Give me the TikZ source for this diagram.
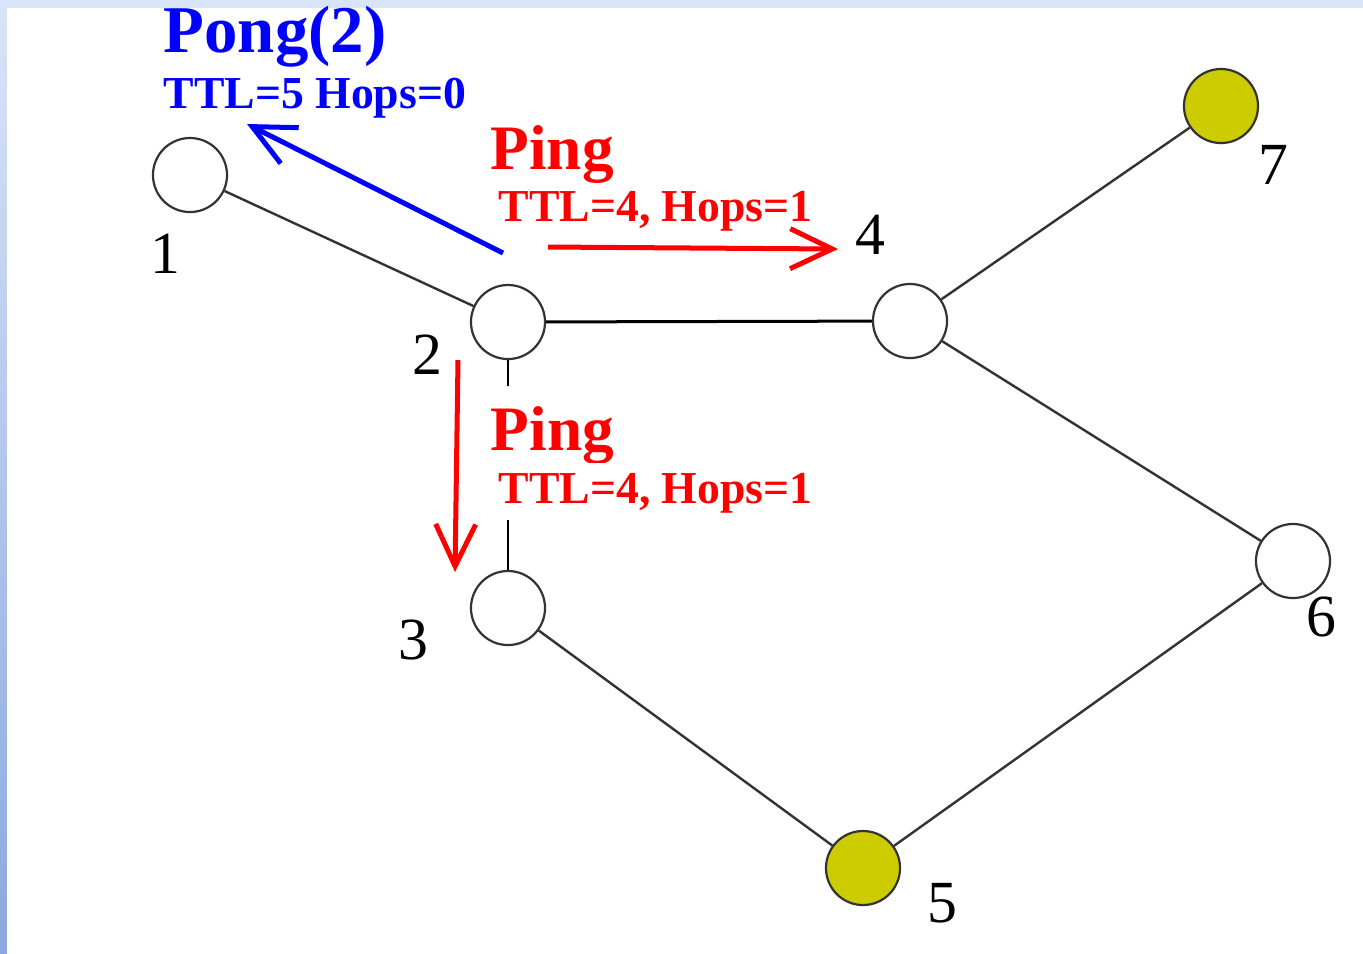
\documentclass[tikz,border=0pt]{standalone}
\usepackage{fontspec}
\setmainfont{Liberation Serif}
\usetikzlibrary{arrows.meta}
\definecolor{cjaune}{RGB}{204,204,0}
\definecolor{cbord}{RGB}{216,228,250}
\definecolor{cbordfonce}{RGB}{140,168,220}
\definecolor{clien}{gray}{0.2}

\begin{document}
\begin{tikzpicture}[x=0.01cm, y=-0.01cm,
    pair/.style={circle, draw=clien, line width=0.022cm, fill=white,
                 minimum size=0.74cm, inner sep=0pt},
    plein/.style={pair, fill=cjaune},
    lien/.style={clien, line width=0.024cm},
    num/.style={font=\fontsize{17}{17}\selectfont, inner sep=0pt},
    msg/.style={line width=0.05cm, -{Straight Barb[length=0.42cm, width=0.4cm]}},
    titre/.style={font=\bfseries\fontsize{18}{18}\selectfont, anchor=base west, inner sep=0pt},
    info/.style={font=\bfseries\fontsize{13}{13}\selectfont, anchor=base west, inner sep=0pt}]

  \useasboundingbox (0,0) rectangle (1363,953);
  \fill[cbord] (0,0) rectangle (1363,953);
  \shade[top color=cbord, bottom color=cbordfonce] (0,0) rectangle (7,953);
  \fill[white] (7,8) rectangle (1363,953);

  \node[pair] (n1) at (190,175) {};
  \node[pair] (n2) at (508,322) {};
  \node[pair] (n3) at (508,608) {};
  \node[pair] (n4) at (910,321) {};
  \node[plein] (n5) at (863,868) {};
  \node[pair] (n6) at (1293,561) {};
  \node[plein] (n7) at (1221,106) {};

  \draw[lien] (n1) -- (n2);
  \draw[lien, black, line width=0.03cm] (n2) -- (n4);
  \draw[lien, black, line width=0.028cm] (n2) -- (n3);
  \draw[lien] (n4) -- (n7);
  \draw[lien] (n4) -- (n6);
  \draw[lien] (n3) -- (n5);
  \draw[lien] (n5) -- (n6);

  \node[num] (l1) at (165,254) {1};
  \node[num] (l2) at (427,355) {2};
  \node[num] (l3) at (413,640) {3};
  \node[num] (l4) at (870,235) {4};
  \node[num] (l5) at (942,903) {5};
  \node[num] (l6) at (1321,617) {6};
  \node[num] (l7) at (1273,165) {7};

  \node[titre, font=\bfseries\fontsize{19}{19}\selectfont, blue] (pong) at (163,52) {Pong(2)};
  \node[info, blue] (pongi) at (163,108) {TTL=5 Hops=0};
  \node[titre, red] (ping4) at (490,169) {Ping};
  \node[info, red] (ping4i) at (498,221) {TTL=4, Hops=1};
  \node[titre, red, fill=white, text height=0.64cm, text depth=0.14cm,
        inner xsep=2pt] (ping3) at (483,450) {Ping};
  \node[info, red, fill=white, text height=0.40cm, text depth=0.17cm,
        inner xsep=2pt] (ping3i) at (491,503) {TTL=4, Hops=1};

  \coordinate (pongA) at (503,253);
  \coordinate (pongB) at (247,124);
  \coordinate (pingA) at (548,247);
  \coordinate (pingB) at (838,249);
  \coordinate (pingC) at (458,360);
  \coordinate (pingD) at (455,572);

  \draw[msg, blue] (pongA) -- (pongB);
  \draw[msg, red] (pingA) -- (pingB);
  \draw[msg, red] (pingC) -- (pingD);
\end{tikzpicture}
\end{document}
